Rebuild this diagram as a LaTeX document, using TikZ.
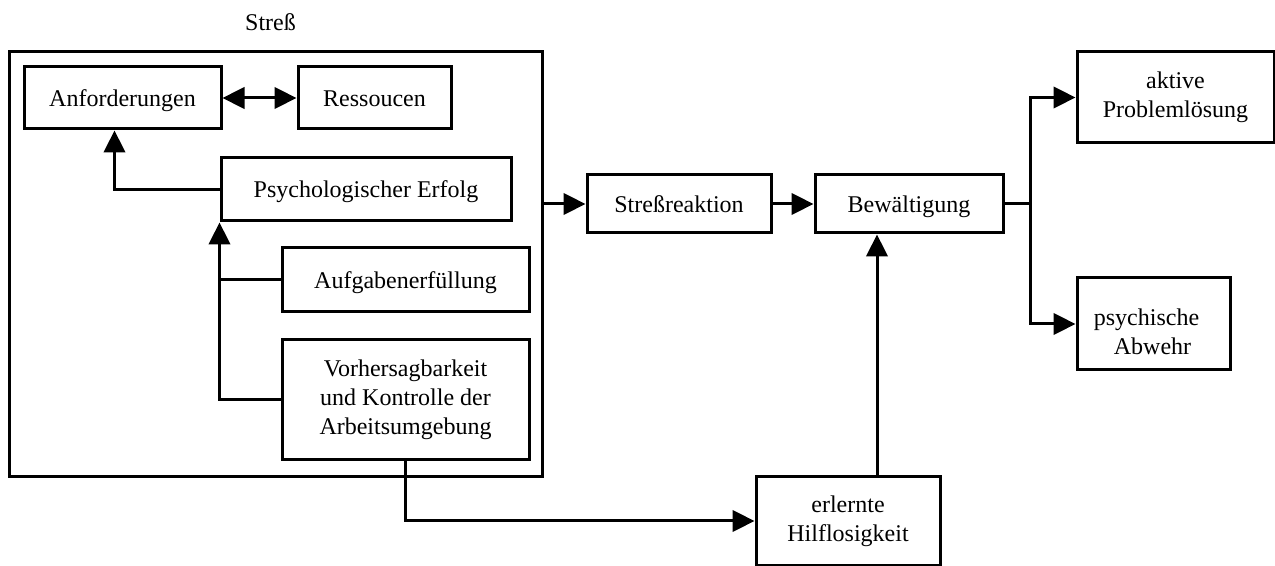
\documentclass[tikz,border=0pt]{standalone}
\usepackage{fontspec}
\setmainfont{Liberation Serif}
\usetikzlibrary{arrows.meta,calc}
\begin{document}
\begin{tikzpicture}[x=0.75pt,y=-0.75pt,
  font=\fontsize{18}{21.75}\selectfont,
  box/.style={draw,line width=2.25pt,inner sep=0pt,align=center},
  oneline/.style={box,text height=12.3pt,text depth=0pt},
  conn/.style={line width=2.25pt},
  arr/.style={conn,-{Triangle[length=16.5pt,width=16pt]}},
  darr/.style={conn,{Triangle[length=16.5pt,width=16pt]}-{Triangle[length=16.5pt,width=16pt]}}]
\useasboundingbox (0,0) rectangle (1275,566);

\node (stresslabel) at (270.5,22) {Streß};
\node[box,minimum width=533*0.75pt,minimum height=425*0.75pt] (outer) at (275.5,264.5) {};

\node[oneline,minimum width=197*0.75pt,minimum height=62*0.75pt] (anf) at (122.5,98) {Anforderungen};
\node[oneline,minimum width=153*0.75pt,minimum height=62*0.75pt] (res) at (374.5,98) {Ressoucen};
\node[oneline,minimum width=290*0.75pt,minimum height=63*0.75pt] (psy) at (366,189.5) {Psychologischer Erfolg};
\node[oneline,minimum width=247*0.75pt,minimum height=64*0.75pt] (auf) at (405.5,280) {Aufgabenerfüllung};
\node[box,minimum width=247*0.75pt,minimum height=120*0.75pt] (vor) at (405.5,400) {Vorhersagbarkeit\\und Kontrolle der\\Arbeitsumgebung};

\node[oneline,minimum width=184*0.75pt,minimum height=58*0.75pt] (str) at (679,204) {Streßreaktion};
\node[oneline,minimum width=188*0.75pt,minimum height=58*0.75pt] (bew) at (909,204) {Bewältigung};
\node[box,minimum width=197*0.75pt,minimum height=91*0.75pt] (akt) at (1175.5,97.5) {aktive\\Problemlösung};
\node[box,align=left,minimum width=153*0.75pt,minimum height=92*0.75pt] (psa) at (1153.5,324) {\rule{0pt}{24pt}psychische\hspace*{10.5pt}\\\hspace*{15pt}Abwehr};
\node[box,minimum width=184*0.75pt,minimum height=88*0.75pt] (erl) at (848,521) {erlernte\\Hilflosigkeit};

\draw[darr] (anf.east) -- (res.west);
\draw[arr] (psy.west) -| ([xshift=69pt]anf.south west);
\draw[arr] (vor.west) -| (psy.south west);
\draw[conn] (auf.west) -- (auf.west -| psy.south west);
\draw[arr] (str.west -| outer.east) -- (str.west);
\draw[arr] (str.east) -- (bew.east -| bew.west);
\draw[arr] (bew.east) -- ++(26,0) coordinate (split) |- (akt.west);
\draw[arr] (split) |- (psa.west);
\draw[arr] (vor.south) |- (erl.west);
\draw[arr] ([xshift=21.75pt]erl.north) -- ([xshift=21.75pt]erl.north |- bew.south);
\end{tikzpicture}
\end{document}
